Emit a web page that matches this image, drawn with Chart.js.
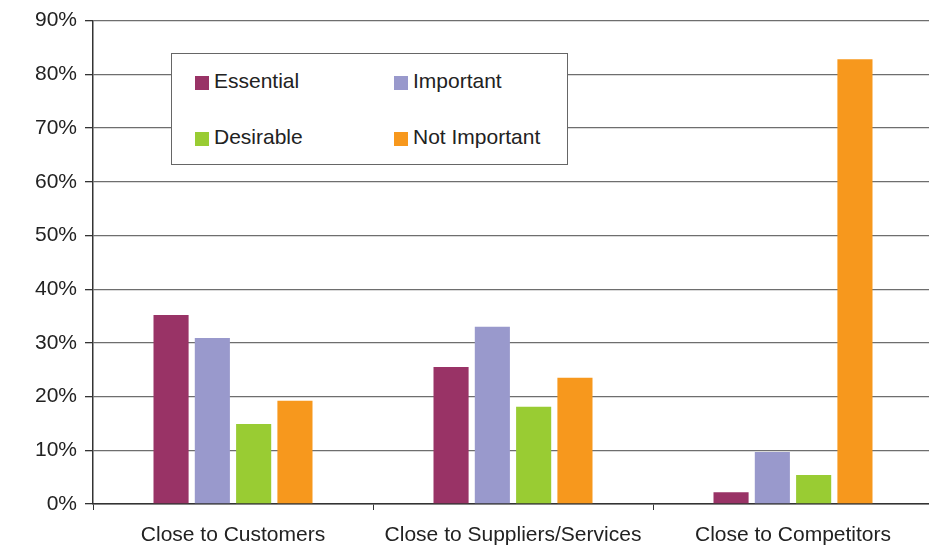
<!DOCTYPE html>
<html>
<head>
<meta charset="utf-8">
<script src="https://cdn.jsdelivr.net/npm/chart.js@4/dist/chart.umd.min.js"></script>
<style>
  html, body { margin: 0; padding: 0; background: #fff; overflow: hidden; width: 929px; height: 548px; }
  #wrap { position: relative; width: 933px; height: 548px; }
  #legend {
    position: absolute; left: 171px; top: 53px; width: 397px; height: 112px;
    border: 1px solid #666; background: #fff; box-sizing: border-box;
    font-family: "Liberation Sans", Arial, sans-serif; font-size: 21px; color: #222;
  }
  .item { position: absolute; height: 14px; display: flex; align-items: center; white-space: nowrap; }
  .sw { width: 14px; height: 14px; margin-right: 5px; flex: none; }
  .tx { position: relative; top: -2px; }
</style>
</head>
<body>
<div id="wrap">
  <canvas id="chart" width="933" height="548"></canvas>
  <div id="legend"></div>
</div>
<script>
// Location factors and how respondents rated them (percent of responses)
const categories = ['Close to Customers', 'Close to Suppliers/Services', 'Close to Competitors'];
const seriesNames = ['Essential', 'Important', 'Desirable', 'Not Important'];
const essential    = [35.2, 25.5, 2.2];
const important    = [30.9, 33.0, 9.7];
const desirable    = [14.9, 18.1, 5.4];
const notImportant = [19.2, 23.5, 82.8];
const yTicks = [0, 10, 20, 30, 40, 50, 60, 70, 80, 90];

const seriesValues = [essential, important, desirable, notImportant];
const seriesColors = ['#993366', '#9999CC', '#99CC33', '#F7981D'];

const FONT = { family: '"Liberation Sans", Arial, sans-serif', size: 21 };

const chart = new Chart(document.getElementById('chart'), {
  type: 'bar',
  data: {
    labels: categories,
    datasets: seriesNames.map((name, i) => ({
      label: name,
      data: seriesValues[i],
      backgroundColor: seriesColors[i],
      borderWidth: 0,
      categoryPercentage: 0.59,
      barPercentage: 0.85
    }))
  },
  options: {
    responsive: false,
    animation: false,
    devicePixelRatio: 1,
    layout: { padding: { top: 20, left: 0, right: 0, bottom: 0 } },
    plugins: { legend: { display: false }, tooltip: { enabled: false } },
    scales: {
      x: {
        grid: { offset: true, drawOnChartArea: false, tickLength: 6, color: '#333', tickColor: '#333' },
        border: { color: '#333', width: 1.5 },
        ticks: { color: '#222', font: FONT, padding: 13, maxRotation: 0 },
        afterFit: (s) => { s.height = 44; }
      },
      y: {
        min: yTicks[0],
        max: yTicks[yTicks.length - 1],
        afterBuildTicks: (s) => { s.ticks = yTicks.map(v => ({ value: v })); },
        grid: { color: '#6e6e6e', lineWidth: 1.3, tickLength: 8, tickColor: '#333' },
        border: { color: '#333', width: 1.5 },
        ticks: { color: '#222', font: FONT, padding: 8, callback: (v) => v + '%' },
        afterFit: (s) => { s.width = 93; }
      }
    }
  }
});

// Two-column legend box built from the dataset names and colours
const legend = document.getElementById('legend');
const cols = [23, 222], rows = [22, 78];
seriesNames.forEach((name, i) => {
  const item = document.createElement('div');
  item.className = 'item';
  item.style.left = cols[i % 2] + 'px';
  item.style.top = rows[Math.floor(i / 2)] + 'px';
  const sw = document.createElement('span');
  sw.className = 'sw';
  sw.style.background = seriesColors[i];
  const tx = document.createElement('span');
  tx.className = 'tx';
  tx.textContent = name;
  item.appendChild(sw);
  item.appendChild(tx);
  legend.appendChild(item);
});
</script>
</body>
</html>
